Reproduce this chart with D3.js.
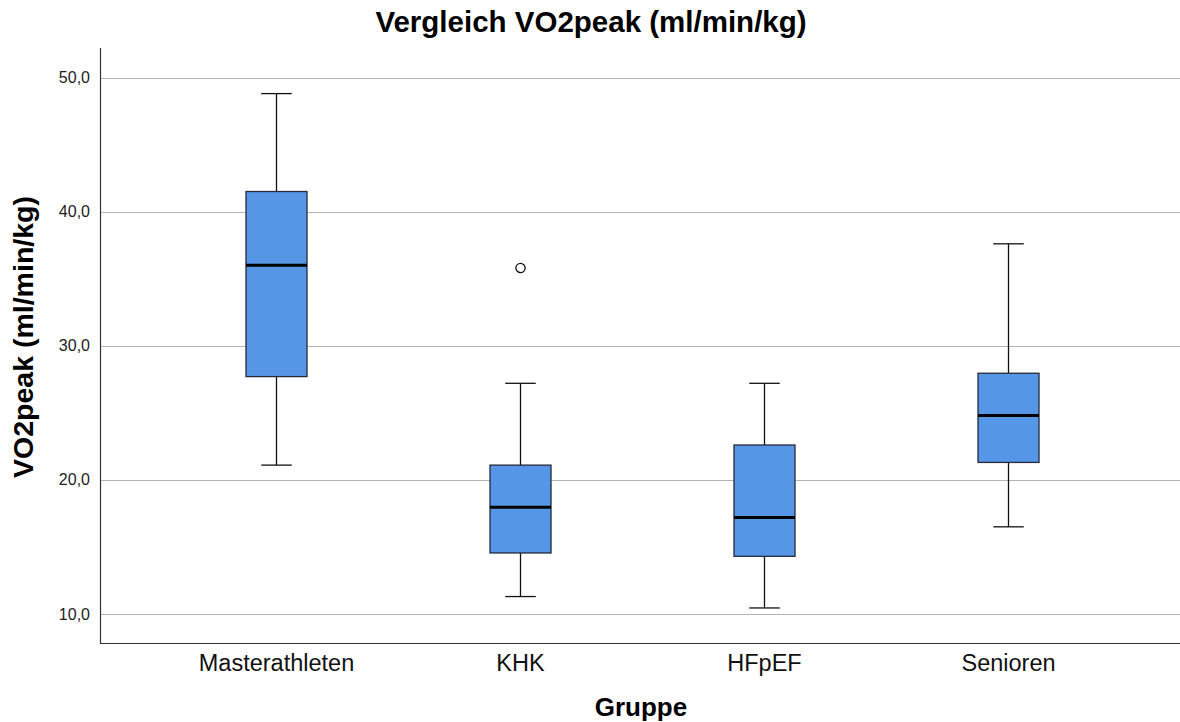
<!DOCTYPE html>
<html lang="de">
<head>
<meta charset="utf-8">
<title>Vergleich VO2peak</title>
<script src="https://cdn.jsdelivr.net/npm/d3@7"></script>
<style>
  body { margin: 0; background: #fff; }
  svg { font-family: Arial, "Liberation Sans", sans-serif; }
</style>
</head>
<body>
<div id="chart"></div>
<script>
// groups and their box statistics
const groups = ["Masterathleten", "KHK", "HFpEF", "Senioren"];
const whiskerLow = [21.1, 11.3, 10.45, 16.5];
const q1 = [27.7, 14.55, 14.3, 21.3];
const median = [36.0, 17.95, 17.2, 24.8];
const q3 = [41.5, 21.1, 22.6, 27.95];
const whiskerHigh = [48.8, 27.2, 27.2, 37.6];
const outliers = [[], [35.8], [], []];
const yTicks = [10, 20, 30, 40, 50];

const W = 1180, H = 722;
const margin = {top: 48, right: 0, bottom: 79, left: 100};

const svg = d3.select("#chart").append("svg")
    .attr("width", W).attr("height", H);

const y = d3.scaleLinear()
    .domain([7.8, 52.2])
    .range([H - margin.bottom + 0.5, margin.top]);

const x = d3.scaleBand()
    .domain(groups)
    .range([154.5, 1130.5]);

const fmt = d => d.toFixed(1).replace(".", ",");

// gridlines
svg.append("g")
    .selectAll("line")
    .data(yTicks)
    .join("line")
    .attr("x1", margin.left).attr("x2", W)
    .attr("y1", d => Math.round(y(d)) + 0.5)
    .attr("y2", d => Math.round(y(d)) + 0.5)
    .attr("stroke", "#b4b4b4")
    .attr("stroke-width", 1.2);

// y axis (labels only, with axis line)
const yAxis = svg.append("g")
    .attr("transform", "translate(" + margin.left + ",0)")
    .call(d3.axisLeft(y).tickValues(yTicks).tickFormat(fmt).tickSize(0).tickPadding(10));
yAxis.select(".domain").remove();
yAxis.selectAll("text")
    .style("font-size", "16px")
    .style("fill", "#222");

svg.append("line")
    .attr("x1", margin.left + 0.5).attr("x2", margin.left + 0.5)
    .attr("y1", margin.top).attr("y2", y.range()[0])
    .attr("stroke", "#333").attr("stroke-width", 1.2);

// x axis
const xAxis = svg.append("g")
    .attr("transform", "translate(0," + y.range()[0] + ")")
    .call(d3.axisBottom(x).tickSize(0).tickPadding(11));
xAxis.select(".domain").remove();
xAxis.selectAll("text")
    .style("font-size", "23.5px")
    .style("fill", "#111");

svg.append("line")
    .attr("x1", margin.left).attr("x2", W)
    .attr("y1", y.range()[0]).attr("y2", y.range()[0])
    .attr("stroke", "#333").attr("stroke-width", 1.2);

// boxes
const boxW = x.bandwidth() * 0.25;
const capW = boxW / 2;
const data = groups.map((g, i) => ({
    g: g, lo: whiskerLow[i], q1: q1[i], med: median[i], q3: q3[i], hi: whiskerHigh[i], out: outliers[i]
}));

const box = svg.append("g").selectAll("g")
    .data(data)
    .join("g")
    .attr("transform", d => "translate(" + (x(d.g) + x.bandwidth() / 2) + ",0)");

// whiskers
box.append("line")
    .attr("x1", 0).attr("x2", 0)
    .attr("y1", d => y(d.hi)).attr("y2", d => y(d.q3))
    .attr("stroke", "#111").attr("stroke-width", 1.3);
box.append("line")
    .attr("x1", 0).attr("x2", 0)
    .attr("y1", d => y(d.q1)).attr("y2", d => y(d.lo))
    .attr("stroke", "#111").attr("stroke-width", 1.3);
box.append("line")
    .attr("x1", -capW / 2).attr("x2", capW / 2)
    .attr("y1", d => y(d.hi)).attr("y2", d => y(d.hi))
    .attr("stroke", "#111").attr("stroke-width", 1.3);
box.append("line")
    .attr("x1", -capW / 2).attr("x2", capW / 2)
    .attr("y1", d => y(d.lo)).attr("y2", d => y(d.lo))
    .attr("stroke", "#111").attr("stroke-width", 1.3);

box.append("rect")
    .attr("x", -boxW / 2)
    .attr("width", boxW)
    .attr("y", d => y(d.q3))
    .attr("height", d => y(d.q1) - y(d.q3))
    .attr("fill", "#5596e6")
    .attr("stroke", "#25293a")
    .attr("stroke-width", 1.3);

box.append("line")
    .attr("x1", -boxW / 2).attr("x2", boxW / 2)
    .attr("y1", d => y(d.med)).attr("y2", d => y(d.med))
    .attr("stroke", "#000").attr("stroke-width", 3);

box.selectAll("circle")
    .data(d => d.out)
    .join("circle")
    .attr("cx", 0)
    .attr("cy", d => y(d))
    .attr("r", 4.6)
    .attr("fill", "#fff")
    .attr("stroke", "#111")
    .attr("stroke-width", 1.3);

// title and axis titles
svg.append("text")
    .attr("x", 591).attr("y", 32)
    .attr("text-anchor", "middle")
    .style("font-size", "29.5px").style("font-weight", "bold")
    .text("Vergleich VO2peak (ml/min/kg)");

svg.append("text")
    .attr("transform", "translate(33,337) rotate(-90)")
    .attr("text-anchor", "middle")
    .style("font-size", "28.5px").style("font-weight", "bold")
    .text("VO2peak (ml/min/kg)");

svg.append("text")
    .attr("x", 641).attr("y", 716)
    .attr("text-anchor", "middle")
    .style("font-size", "26px").style("font-weight", "bold")
    .text("Gruppe");
</script>
</body>
</html>
